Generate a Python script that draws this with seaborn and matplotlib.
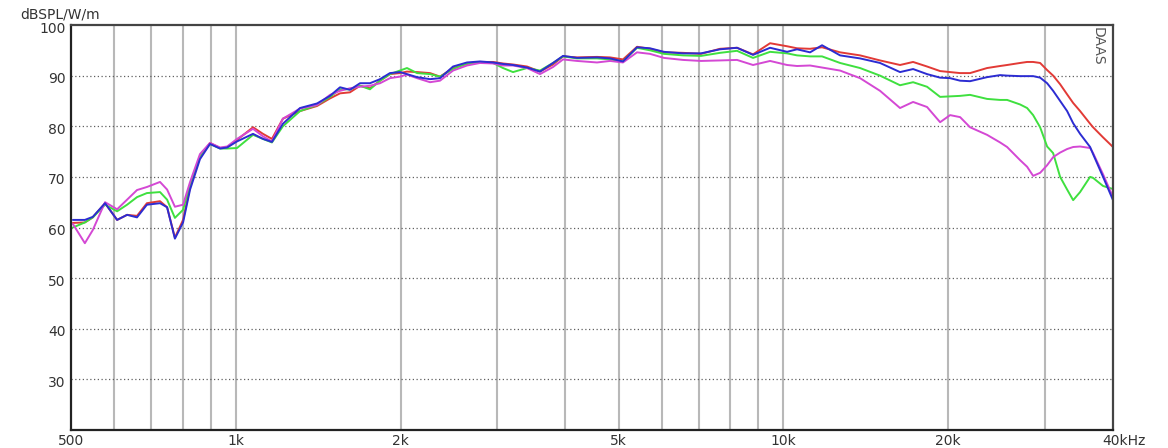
import numpy as np
import pandas as pd
import seaborn as sns
import matplotlib.pyplot as plt
from matplotlib.transforms import ScaledTranslation

# ==========================================
# Data
# ==========================================
freq_hz = [504, 530, 548, 577, 607, 633, 660, 688, 727, 749, 774, 801, 825, 860, 897,
           936, 964, 1005, 1075, 1121, 1164, 1219, 1310, 1407, 1486, 1550, 1616, 1686,
           1758, 1834, 1912, 1994, 2054, 2143, 2263, 2360, 2493, 2644, 2792, 2950, 3076,
           3208, 3403, 3594, 3796, 3959, 4200, 4567, 4825, 5095, 5404, 5707, 6053, 6559,
           7074, 7662, 8230, 8803, 9457, 10158, 10592, 11189, 11767, 12694, 13806, 15016,
           16334, 17257, 18300, 19332, 20162, 21030, 21926, 23555, 24880, 25625, 27066,
           27874, 28588, 29442, 30320, 31096, 32024, 32980, 33828, 34831, 36329, 36786,
           38363, 40000]

spl_red = [60.9, 61.0, 62.0, 64.8, 61.5, 62.5, 62.3, 64.8, 65.2, 64.0, 58.0, 61.5, 68.0,
           74.0, 76.7, 75.7, 75.8, 77.3, 79.8, 78.5, 77.5, 81.5, 83.0, 84.0, 85.5, 86.5,
           86.7, 88.0, 87.5, 89.0, 90.3, 90.5, 90.8, 90.7, 90.5, 89.8, 91.5, 92.3, 92.7,
           92.7, 92.4, 92.2, 91.8, 90.8, 92.2, 93.8, 93.6, 93.7, 93.6, 93.2, 95.7, 95.3,
           94.6, 94.5, 94.3, 95.3, 95.5, 94.2, 96.4, 95.8, 95.4, 95.3, 95.6, 94.6, 94.0,
           93.0, 92.1, 92.7, 91.8, 90.9, 90.7, 90.5, 90.5, 91.5, 91.9, 92.1, 92.5, 92.7,
           92.7, 92.5, 91.1, 90.0, 88.3, 86.3, 84.6, 83.0, 80.5, 79.8, 77.8, 75.9]

spl_blue = [61.5, 61.5, 62.1, 64.8, 61.5, 62.5, 62.0, 64.5, 64.8, 64.0, 57.8, 61.0, 67.5,
            73.5, 76.5, 75.6, 75.8, 77.0, 78.5, 77.5, 76.9, 80.5, 83.6, 84.5, 86.0, 87.7,
            87.2, 88.5, 88.5, 89.3, 90.5, 90.7, 90.3, 89.7, 89.3, 89.5, 91.8, 92.6, 92.8,
            92.6, 92.3, 92.1, 91.6, 90.8, 92.5, 93.9, 93.5, 93.6, 93.4, 92.8, 95.6, 95.4,
            94.7, 94.4, 94.4, 95.2, 95.5, 94.1, 95.5, 94.7, 95.2, 94.6, 96.0, 94.0, 93.4,
            92.5, 90.7, 91.3, 90.3, 89.6, 89.5, 89.0, 88.9, 89.7, 90.1, 90.0, 89.9, 89.9,
            89.9, 89.6, 88.5, 87.0, 85.0, 83.0, 80.6, 78.5, 75.9, 74.5, 70.0, 65.4]

spl_green = [60.0, 61.0, 62.0, 64.5, 63.2, 64.5, 66.0, 66.8, 67.0, 65.5, 61.9, 63.5, 68.5,
             74.0, 76.5, 75.6, 75.6, 75.7, 78.3, 77.5, 76.8, 80.0, 83.0, 84.2, 85.8, 87.3,
             87.3, 88.0, 87.3, 89.0, 90.3, 91.0, 91.5, 90.5, 90.3, 89.8, 91.3, 92.4, 92.7,
             92.5, 91.5, 90.7, 91.5, 91.0, 92.5, 93.8, 93.4, 93.4, 93.2, 92.8, 95.5, 95.0,
             94.3, 94.0, 93.9, 94.5, 94.9, 93.5, 94.7, 94.4, 94.0, 93.8, 93.8, 92.5, 91.5,
             90.0, 88.1, 88.7, 87.8, 85.8, 85.9, 86.0, 86.2, 85.4, 85.2, 85.2, 84.3, 83.6,
             82.2, 79.8, 76.0, 74.7, 70.0, 67.5, 65.4, 67.0, 70.0, 69.8, 68.2, 67.6]

spl_magenta = [60.7, 56.9, 59.5, 65.0, 63.6, 65.5, 67.4, 68.0, 69.0, 67.5, 64.1, 64.5, 69.0,
               74.5, 76.7, 75.8, 76.0, 77.5, 79.5, 78.0, 77.0, 81.5, 83.5, 84.2, 86.2, 87.0,
               87.5, 87.8, 88.0, 88.5, 89.5, 89.8, 90.2, 89.5, 88.7, 89.0, 91.0, 92.0, 92.5,
               92.4, 92.0, 92.0, 91.5, 90.3, 91.7, 93.2, 92.9, 92.6, 92.9, 92.6, 94.6, 94.3,
               93.5, 93.1, 92.9, 93.0, 93.1, 92.1, 92.9, 92.1, 91.9, 92.0, 91.6, 91.0, 89.5,
               87.0, 83.6, 84.8, 83.8, 80.8, 82.2, 81.8, 79.8, 78.3, 76.8, 75.9, 73.3, 72.0,
               70.2, 70.8, 72.3, 73.9, 74.8, 75.5, 75.9, 76.0, 75.7, 74.7, 70.5, 66.0]

x_tick_vals = [500, 1000, 2000, 5000, 10000, 20000, 40000]
x_tick_labels = ['500', '1k', '2k', '5k', '10k', '20k', '40kHz']
x_grid_vals = [600, 700, 800, 900, 3000, 4000, 6000, 7000, 8000, 9000, 30000]
y_tick_vals = [30, 40, 50, 60, 70, 80, 90, 100]

curves = {'red': spl_red, 'green': spl_green, 'magenta': spl_magenta, 'blue': spl_blue}
palette = {'red': '#e23a36', 'green': '#3fe03f', 'magenta': '#d448d4', 'blue': '#2c2cd2'}

df = pd.concat([pd.DataFrame({'freq': freq_hz, 'spl': v, 'curve': k})
                for k, v in curves.items()], ignore_index=True)

# ==========================================
# Plotting
# ==========================================
sns.set_theme(style="white")
plt.rcParams['font.family'] = ['DejaVu Sans']

fig = plt.figure(figsize=(11.68, 4.48), dpi=100)
ax = fig.add_axes([71 / 1168, 1 - 430 / 448, (1113 - 71) / 1168, (430 - 25) / 448])

ax.set_xscale('log')
ax.set_xlim(500, 40000)
ax.set_ylim(20, 100)

# grid lines
for xv in x_tick_vals[1:-1] + x_grid_vals:
    ax.axvline(xv, color='#b8b8b8', lw=1.5, zorder=0)
for yv in y_tick_vals[:-1]:
    ax.axhline(yv, color='#606060', lw=0.9, ls=(0, (1, 2)), zorder=0)

sns.lineplot(data=df, x='freq', y='spl', hue='curve', palette=palette,
             hue_order=list(curves.keys()), sort=False, estimator=None,
             linewidth=1.4, legend=False, ax=ax)

ax.set_xticks(x_tick_vals)
ax.set_xticklabels(x_tick_labels)
ax.xaxis.set_minor_locator(plt.NullLocator())
ax.set_yticks(y_tick_vals)
ax.set_yticklabels([str(v) for v in y_tick_vals])
ax.tick_params(axis='both', length=0, labelsize=10, colors='#333333')
ax.tick_params(axis='x', pad=3)
ax.tick_params(axis='y', pad=4)
ax.set_xlabel('')
ax.set_ylabel('')

# y labels sit a touch below their grid line
for lab in ax.get_yticklabels():
    lab.set_transform(lab.get_transform() + ScaledTranslation(0, -2 / 100, fig.dpi_scale_trans))

# shift the last label so that "40k" sits on the edge and "Hz" hangs right
last = ax.get_xticklabels()[-1]
last.set_horizontalalignment('left')
last.set_transform(last.get_transform() + ScaledTranslation(-11 / 100, 0, fig.dpi_scale_trans))

for side, s in ax.spines.items():
    s.set_visible(True)
    s.set_color('#222222' if side in ('left', 'bottom') else '#444444')
    s.set_linewidth(1.6)

fig.text(20 / 1168, 1 - 18 / 448, 'dBSPL/W/m', fontsize=10, color='#333333',
         ha='left', va='baseline')
ax.text(0.985, 0.995, 'DAAS', transform=ax.transAxes, rotation=270, fontsize=10,
        color='#555555', ha='center', va='top')

fig.savefig('out.png', dpi=100, facecolor='white')
